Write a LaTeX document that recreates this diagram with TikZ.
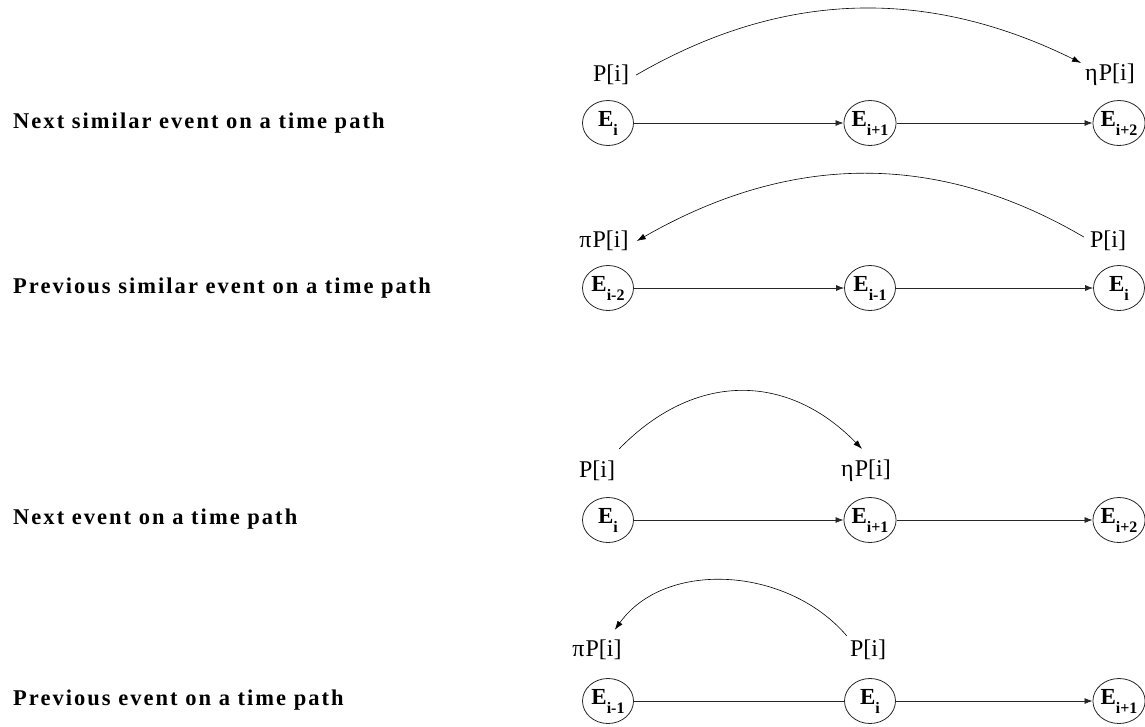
\documentclass[tikz,border=0pt]{standalone}
\usepackage{fontspec}
\setmainfont{Liberation Serif}
\usetikzlibrary{arrows.meta,shapes.geometric}

\newcommand{\ev}[1]{E\raisebox{-9pt}{\fontsize{16}{16}\selectfont #1}}

\tikzset{
  event/.style={draw=black!85, ellipse, line width=0.8pt, minimum width=51pt, minimum height=45pt, inner sep=0pt, font=\fontsize{23}{23}\selectfont\bfseries},
  plab/.style={inner sep=1pt, font=\fontsize{24}{24}\selectfont},
  rowlab/.style={anchor=base west, inner sep=0pt, font=\fontsize{22.5}{22.5}\selectfont\bfseries\addfontfeatures{LetterSpace=9}},
  link/.style={-{Latex[length=8pt,width=6pt]}, line width=0.7pt, black!85},
  hop/.style={-{Latex[length=9pt,width=6pt]}, line width=0.6pt},
}

\begin{document}
\begin{tikzpicture}[x=1pt, y=-1pt]
\useasboundingbox (0,0) rectangle (1145,726);

% next similar event
\node[rowlab] (ta) at (13,128) {Next similar event on a time path};
\node[event] (a1) at (608,123) {\ev{i}};
\node[event] (a2) at (870,123) {\ev{i+1}};
\node[event] (a3) at (1119,123) {\ev{i+2}};
\node[plab] (pa) at (611,75) {P[i]};
\node[plab] (qa) at (1110,75) {η\kern1pt P[i]};
\draw[link] (a1) -- (a2);
\draw[link] (a2) -- (a3);
\draw[hop] ([xshift=6pt]pa.east) .. controls +(150,-87) and +(-150,-74) .. ([xshift=-3pt]qa.north west);

% previous similar event
\node[rowlab] (tb) at (13,293) {Previous similar event on a time path};
\node[event] (b1) at (608,288) {\ev{i-2}};
\node[event] (b2) at (870,288) {\ev{i-1}};
\node[event] (b3) at (1119,288) {\ev{i}};
\node[plab] (pb) at (604,241) {π\kern1pt P[i]};
\node[plab] (qb) at (1108,241) {P[i]};
\draw[link] (b1) -- (b2);
\draw[link] (b2) -- (b3);
\draw[hop] ([xshift=-5pt,yshift=4pt]qb.west) .. controls +(-150,-88) and +(150,-86) .. ([xshift=7pt]pb.east);

% next event
\node[rowlab] (tc) at (13,524) {Next event on a time path};
\node[event] (c1) at (608,520) {\ev{i}};
\node[event] (c2) at (870,520) {\ev{i+1}};
\node[event] (c3) at (1119,520) {\ev{i+2}};
\node[plab] (pc) at (597,471) {P[i]};
\node[plab] (qc) at (866,471) {η\kern1pt P[i]};
\draw[link] (c1) -- (c2);
\draw[link] (c2) -- (c3);
\draw[hop] ([xshift=3pt,yshift=11pt]pc.north east) .. controls +(75,-77) and +(-75,-77) .. ([xshift=-4pt,yshift=10pt]qc.north);

% previous event
\node[rowlab] (td) at (13,705) {Previous event on a time path};
\node[event] (d1) at (608,701) {\ev{i-1}};
\node[event] (d2) at (870,701) {\ev{i}};
\node[event] (d3) at (1119,701) {\ev{i+1}};
\node[plab] (pd) at (597,650) {π\kern1pt P[i]};
\node[plab] (qd) at (868,650) {P[i]};
\draw[line width=0.7pt, black!85] (d1) -- (d2);
\draw[link] (d2) -- (d3);
\draw[hop] ([xshift=-2pt,yshift=3pt]qd.north west) .. controls +(-60,-70) and +(50,-70) .. ([xshift=-8pt,yshift=9pt]pd.north east);
\end{tikzpicture}
\end{document}
